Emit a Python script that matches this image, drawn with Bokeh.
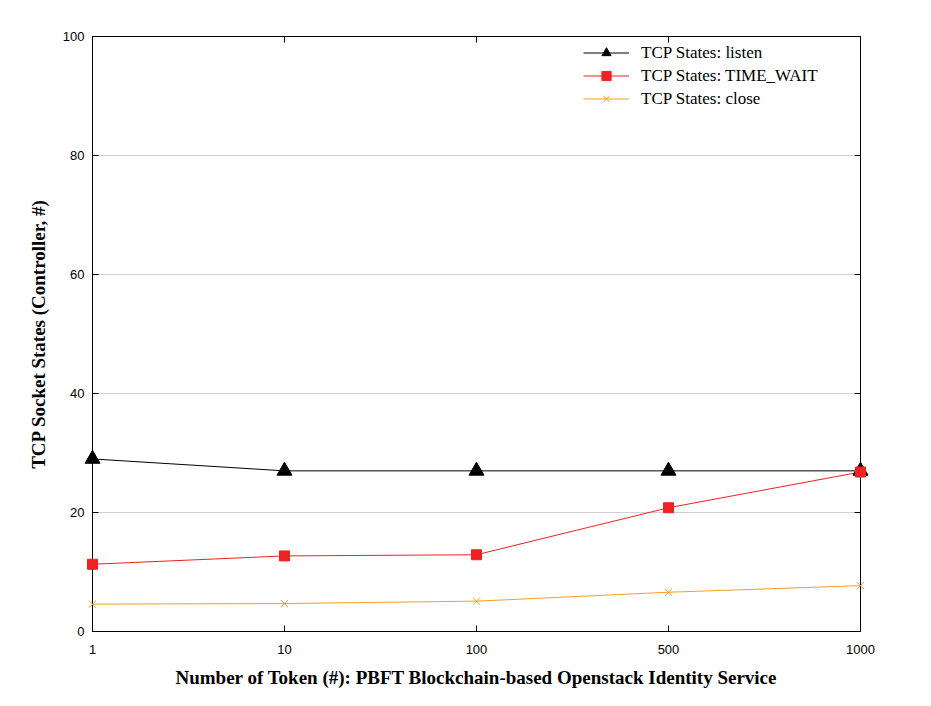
from bokeh.plotting import figure
from bokeh.models import FixedTicker, LinearAxis, Range1d, Legend, LegendItem
from bokeh.embed import file_html
from bokeh.resources import INLINE

categories = ["1", "10", "100", "500", "1000"]
listen = [29.0, 27.0, 27.0, 27.0, 27.0]
time_wait = [11.3, 12.7, 12.9, 20.8, 26.8]
close = [4.6, 4.7, 5.1, 6.6, 7.7]
y_ticks = [0, 20, 40, 60, 80, 100]

xs = list(range(len(categories)))

p = figure(width=915, height=690, output_backend="svg", toolbar_location=None,
           x_range=Range1d(0, len(categories) - 1), y_range=Range1d(0, 100),
           min_border_left=92, min_border_right=55, min_border_top=36, min_border_bottom=58)
p.background_fill_color = "white"
p.border_fill_color = "white"
p.outline_line_color = "black"
p.outline_line_width = 1

p.xgrid.grid_line_color = None
p.ygrid.grid_line_color = "#d0d0d0"
p.ygrid.grid_line_width = 1

p.xaxis.ticker = FixedTicker(ticks=xs)
p.xaxis.major_label_overrides = {i: c for i, c in enumerate(categories)}
p.yaxis.ticker = FixedTicker(ticks=y_ticks)

for ax in [p.xaxis[0], p.yaxis[0]]:
    ax.major_tick_in = 6
    ax.major_tick_out = 0
    ax.minor_tick_line_color = None
    ax.axis_line_color = "black"
    ax.major_label_text_font = "Liberation Sans"
    ax.major_label_text_font_size = "13px"
    ax.major_label_text_color = "black"
    ax.axis_label_text_font = "Liberation Serif"
    ax.axis_label_text_font_style = "bold"
    ax.axis_label_text_font_size = "19px"
    ax.axis_label_text_color = "black"

p.xaxis.axis_label = "Number of Token (#): PBFT Blockchain-based Openstack Identity Service"
p.yaxis.axis_label = "TCP Socket States (Controller, #)"
p.xaxis.major_label_standoff = 13
p.yaxis.major_label_standoff = 8
p.xaxis.axis_label_standoff = 10
p.yaxis.axis_label_standoff = 11

top = LinearAxis(ticker=FixedTicker(ticks=xs), major_label_text_color=None,
                 major_tick_in=6, major_tick_out=0, minor_tick_line_color=None)
right = LinearAxis(ticker=FixedTicker(ticks=y_ticks), major_label_text_color=None,
                   major_tick_in=6, major_tick_out=0, minor_tick_line_color=None)
p.add_layout(top, "above")
p.add_layout(right, "right")

l1 = p.line(xs, listen, line_color="black", line_width=1)
m1 = p.scatter(xs, listen, marker="triangle", size=15, fill_color="black", line_color="black", level="overlay")
l2 = p.line(xs, time_wait, line_color="#ee2222", line_width=1)
m2 = p.scatter(xs, time_wait, marker="square", size=10, fill_color="#ee2222", line_color="#ee2222", level="overlay")
l3 = p.line(xs, close, line_color="#f5a020", line_width=1)
m3 = p.scatter(xs, close, marker="x", size=10, line_color="#f5a020", line_width=1, level="overlay")

legend = Legend(items=[
    LegendItem(label="TCP States: listen", renderers=[l1, m1]),
    LegendItem(label="TCP States: TIME_WAIT", renderers=[l2, m2]),
    LegendItem(label="TCP States: close", renderers=[l3, m3]),
], location=(491, 521), label_text_font="Liberation Serif", label_text_font_size="17px",
    label_text_color="black", border_line_color=None, background_fill_alpha=0,
    glyph_width=46, glyph_height=23, label_height=20, spacing=0, padding=10,
    label_standoff=12)
p.add_layout(legend)

open("out.html", "w").write(file_html(p, INLINE))
